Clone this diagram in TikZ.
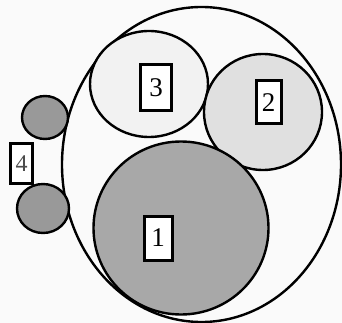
\documentclass[tikz,border=0pt]{standalone}
\usepackage{fontspec}
\setmainfont{Liberation Serif}
\usetikzlibrary{shapes.geometric}
\definecolor{bg}{gray}{0.98}
\definecolor{gone}{gray}{0.66}
\definecolor{gtwo}{gray}{0.88}
\definecolor{gthree}{gray}{0.95}
\definecolor{gfour}{gray}{0.60}
\tikzset{
  blob/.style={ellipse, draw=black, line width=2.4pt, inner sep=0pt},
  label box/.style={draw=black, fill=white, line width=2.8pt, inner sep=0pt,
    font=\fontsize{27}{27}\selectfont},
}
\begin{document}
\begin{tikzpicture}[x=1pt,y=-1pt]
\fill[bg] (0,0) rectangle (342,323);
\useasboundingbox (0,0) rectangle (342,323);
\node[blob, minimum width=279pt, minimum height=315pt] (outer) at (201.5,164.5) {};
\node[blob, fill=gthree, minimum width=118pt, minimum height=106pt] (c3) at (149,84) {};
\node[blob, fill=gtwo, minimum width=118pt, minimum height=116pt] (c2) at (263,112) {};
\node[blob, fill=gone, minimum width=175pt, minimum height=173pt] (c1) at (181,228) {};
\node[blob, fill=gfour, minimum width=46pt, minimum height=43pt] (c4a) at (45,117.5) {};
\node[blob, fill=gfour, minimum width=52pt, minimum height=49pt] (c4b) at (43,208.5) {};
\node[label box, minimum width=31pt, minimum height=46pt] (l3) at (156,87.5) {3};
\node[label box, line width=3pt, minimum width=25pt, minimum height=43pt] (l2) at (268.5,102.5) {2};
\node[label box, line width=3pt, minimum width=28pt, minimum height=44pt] (l1) at (158,238) {1};
\node[label box, line width=2.3pt, text=black!70, font=\fontsize{24}{24}\selectfont,
  minimum width=22pt, minimum height=40pt] (l4) at (21.5,163.5) {4};
\end{tikzpicture}
\end{document}
